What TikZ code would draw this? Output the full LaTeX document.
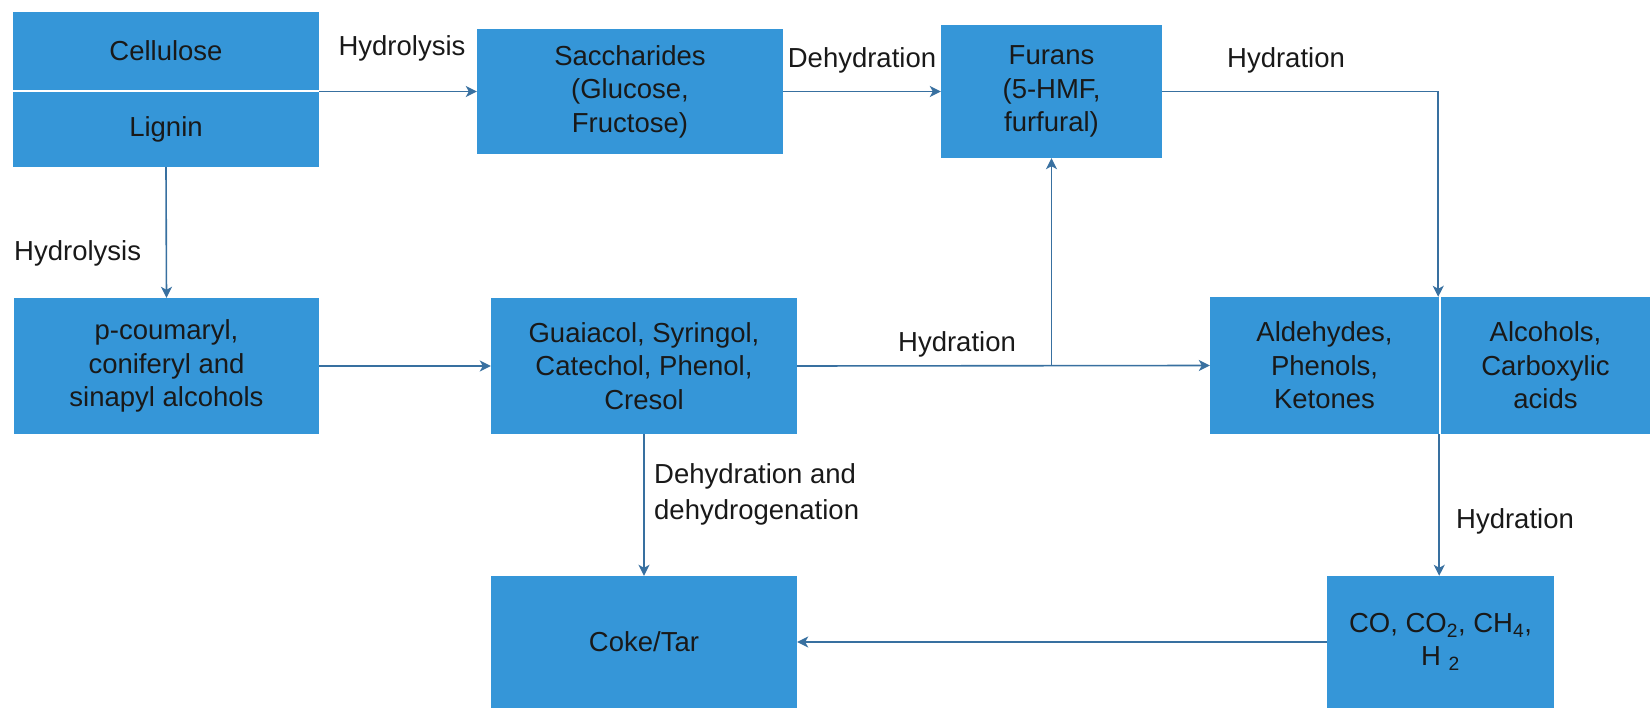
\documentclass[tikz,border=0pt]{standalone}
\usepackage{fontspec}
\setmainfont{Liberation Sans}
\usetikzlibrary{arrows.meta,calc}
\definecolor{boxblue}{RGB}{53,150,216}
\definecolor{arrowblue}{RGB}{56,112,160}
\begin{document}
\begin{tikzpicture}[x=1pt,y=-1pt,
  box/.style={fill=boxblue, draw=none, inner sep=0pt, align=center, font=\fontsize{27.5}{33.5}\selectfont, text=black!90},
  arr/.style={draw=arrowblue, line width=1.6pt, -{Stealth[length=11pt,width=11pt,inset=3pt]}},
  lbl/.style={inner sep=0pt, font=\fontsize{27.5}{36}\selectfont, align=left, text=black!90}]
\useasboundingbox (0,0) rectangle (1650,708);
\node[box, minimum width=306pt, minimum height=78pt] (cell) at (166,51) {Cellulose};
\node[box, minimum width=306pt, minimum height=75pt] (lig) at (166,129.5) {Lignin};
\node[box, minimum width=306pt, minimum height=125pt] (sac) at (630,91.5) {Saccharides\\(Glucose,\\Fructose)};
\node[box, minimum width=221pt, minimum height=133pt] (fur) at (1051.5,91.5) {Furans\\(5-HMF,\\furfural)};
\node[box, minimum width=305pt, minimum height=136pt] (pcou) at (166.5,366) {p-coumaryl,\\coniferyl and\\sinapyl alcohols};
\node[box, minimum width=306pt, minimum height=136pt] (gua) at (644,366) {Guaiacol, Syringol,\\Catechol, Phenol,\\Cresol};
\node[box, minimum width=229pt, minimum height=137pt] (ald) at (1324.5,365.5) {Aldehydes,\\Phenols,\\Ketones};
\node[box, minimum width=209pt, minimum height=137pt] (alc) at (1545.5,365.5) {Alcohols,\\Carboxylic\\acids};
\node[box, minimum width=306pt, minimum height=132pt] (coke) at (644,642) {Coke/Tar};
\node[box, minimum width=227pt, minimum height=132pt] (gas) at (1440.5,642) {CO, CO\textsubscript{2}, CH\textsubscript{4},\\H \textsubscript{2}};

\node[lbl] (l1) at (402,48) {Hydrolysis};
\node[lbl] (l2) at (862,60) {Dehydration};
\node[lbl] (l3) at (1286,60) {Hydration};
\node[lbl, anchor=west] (l4) at (14,253) {Hydrolysis};
\node[lbl] (l5) at (957,344) {Hydration};
\node[lbl, anchor=west] (l6) at (654,494) {Dehydration and\\dehydrogenation};
\node[lbl] (l7) at (1515,521) {Hydration};

\draw[arr] (sac.west -| cell.east) -- (sac.west);
\draw[arr] (sac.east) -- (sac.east -| fur.west);
\draw[arr] (fur.east) -| ($(ald.north east)+(-1,0)$);
\draw[arr] (lig.south) -- (pcou.north);
\draw[arr] (pcou.east) -- (gua.west);
\draw[arr] (gua.east) -- (ald.west);
\coordinate (jn) at (fur.south |- gua.east);
\draw[arr] (jn) -- (fur.south);
\draw[arr] (gua.south) -- (coke.north);
\draw[arr] (ald.south east) -- (ald.south east |- gas.north);
\draw[arr] (gas.west) -- (coke.east);
\end{tikzpicture}
\end{document}
